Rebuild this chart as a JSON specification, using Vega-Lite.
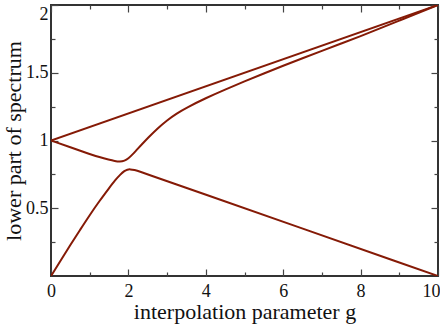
{
  "$schema": "https://vega.github.io/schema/vega-lite/v6.json",
  "autosize": "none",
  "padding": {"left": 51, "top": 5, "right": 2, "bottom": 51},
  "width": 387,
  "height": 271,
  "background": "white",
  "config": {
    "view": {"stroke": "#333333", "strokeWidth": 2},
    "font": "Liberation Serif",
    "axis": {
      "labelFont": "Liberation Serif",
      "titleFont": "Liberation Serif",
      "labelColor": "#111111",
      "titleColor": "#111111",
      "tickColor": "#444444",
      "tickWidth": 1.2,
      "domain": false,
      "grid": false,
      "labelFontSize": 18,
      "titleFontSize": 22,
      "titleFontWeight": "normal"
    }
  },
  "data": {
    "values": [
      {"s": "a", "g": 0, "v": 1.0},
      {"s": "a", "g": 10, "v": 2.0},

      {"s": "b", "g": 0, "v": 1.0},
      {"s": "b", "g": 0.5, "v": 0.95},
      {"s": "b", "g": 1.0, "v": 0.9},
      {"s": "b", "g": 1.25, "v": 0.877},
      {"s": "b", "g": 1.5, "v": 0.858},
      {"s": "b", "g": 1.65, "v": 0.848},
      {"s": "b", "g": 1.78, "v": 0.843},
      {"s": "b", "g": 1.9, "v": 0.85},
      {"s": "b", "g": 2.0, "v": 0.867},
      {"s": "b", "g": 2.1, "v": 0.895},
      {"s": "b", "g": 2.2, "v": 0.926},
      {"s": "b", "g": 2.35, "v": 0.972},
      {"s": "b", "g": 2.5, "v": 1.018},
      {"s": "b", "g": 2.75, "v": 1.089},
      {"s": "b", "g": 3.0, "v": 1.15},
      {"s": "b", "g": 3.25, "v": 1.2},
      {"s": "b", "g": 3.5, "v": 1.242},
      {"s": "b", "g": 4.0, "v": 1.313},
      {"s": "b", "g": 4.5, "v": 1.376},
      {"s": "b", "g": 5.0, "v": 1.436},
      {"s": "b", "g": 5.5, "v": 1.495},
      {"s": "b", "g": 6.0, "v": 1.552},
      {"s": "b", "g": 6.5, "v": 1.607},
      {"s": "b", "g": 7.0, "v": 1.662},
      {"s": "b", "g": 7.5, "v": 1.716},
      {"s": "b", "g": 8.0, "v": 1.77},
      {"s": "b", "g": 8.5, "v": 1.827},
      {"s": "b", "g": 9.0, "v": 1.885},
      {"s": "b", "g": 9.5, "v": 1.943},
      {"s": "b", "g": 10, "v": 2.0},

      {"s": "c", "g": 0, "v": 0.0},
      {"s": "c", "g": 0.25, "v": 0.115},
      {"s": "c", "g": 0.5, "v": 0.23},
      {"s": "c", "g": 0.75, "v": 0.34},
      {"s": "c", "g": 1.0, "v": 0.45},
      {"s": "c", "g": 1.25, "v": 0.553},
      {"s": "c", "g": 1.5, "v": 0.648},
      {"s": "c", "g": 1.65, "v": 0.705},
      {"s": "c", "g": 1.8, "v": 0.752},
      {"s": "c", "g": 1.9, "v": 0.776},
      {"s": "c", "g": 1.97, "v": 0.786},
      {"s": "c", "g": 2.05, "v": 0.788},
      {"s": "c", "g": 2.15, "v": 0.783},
      {"s": "c", "g": 2.3, "v": 0.77},
      {"s": "c", "g": 2.6, "v": 0.74},
      {"s": "c", "g": 3.0, "v": 0.7},
      {"s": "c", "g": 10, "v": 0.0}
    ]
  },
  "encoding": {
    "x": {"field": "g", "type": "quantitative", "scale": {"domain": [0, 10], "nice": false, "zero": false}},
    "y": {"field": "v", "type": "quantitative", "scale": {"domain": [0, 2], "nice": false, "zero": false}},
    "detail": {"field": "s"}
  },
  "layer": [
    {
      "mark": {"type": "line", "color": "#851a06", "strokeWidth": 2, "interpolate": "basis", "clip": true},
      "encoding": {
        "x": {"field": "g", "type": "quantitative", "scale": {"domain": [0, 10], "nice": false, "zero": false},
          "axis": {"orient": "bottom", "values": [0,1,2,3,4,5,6,7,8,9,10],
            "labelExpr": "datum.value % 2 === 0 ? toString(datum.value) : ''",
            "tickSize": {"condition": {"test": "datum.value % 2 === 0", "value": -7}, "value": -4},
            "labelAlign": {"condition": {"test": "datum.value === 10", "value": "right"}, "value": "center"},
            "labelOffset": {"condition": {"test": "datum.value === 10", "value": 2}, "value": 0},
            "labelPadding": 13,
            "title": "interpolation parameter g", "titlePadding": 1}},
        "y": {"field": "v", "type": "quantitative", "scale": {"domain": [0, 2], "nice": false, "zero": false},
          "axis": {"orient": "left", "values": [0.25,0.5,0.75,1,1.25,1.5,1.75,2],
            "labelExpr": "(datum.value * 2) % 1 === 0 ? toString(datum.value) : ''",
            "tickSize": {"condition": {"test": "(datum.value * 2) % 1 === 0", "value": -7}, "value": -4},
            "labelFlush": true,
            "labelPadding": 10,
            "title": "lower part of spectrum", "titlePadding": 0}}
      }
    },
    {
      "mark": {"type": "line", "opacity": 0},
      "encoding": {
        "x": {"field": "g", "type": "quantitative", "scale": {"domain": [0, 10], "nice": false, "zero": false},
          "axis": {"orient": "top", "values": [0,1,2,3,4,5,6,7,8,9,10], "labels": false, "title": null,
            "tickSize": {"condition": {"test": "datum.value % 2 === 0", "value": -7}, "value": -4}}},
        "y": {"field": "v", "type": "quantitative", "scale": {"domain": [0, 2], "nice": false, "zero": false},
          "axis": {"orient": "right", "values": [0.25,0.5,0.75,1,1.25,1.5,1.75,2], "labels": false, "title": null,
            "tickSize": {"condition": {"test": "(datum.value * 2) % 1 === 0", "value": -7}, "value": -4}}}
      }
    }
  ],
  "resolve": {"axis": {"x": "independent", "y": "independent"}}
}
